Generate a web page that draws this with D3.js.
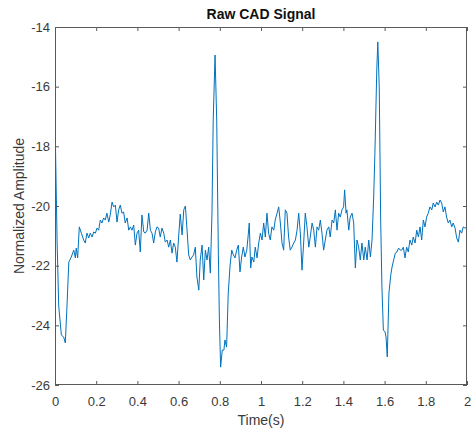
<!DOCTYPE html>
<html>
<head>
<meta charset="utf-8">
<script src="https://cdn.jsdelivr.net/npm/d3@7"></script>
<style>
  html, body { margin: 0; padding: 0; background: #fff; }
  svg { display: block; font-family: "Liberation Sans", Arial, sans-serif; }
</style>
</head>
<body>
<svg id="chart" width="471" height="432"></svg>
<script>
const chartTitle = "Raw CAD Signal";
const xLabel = "Time(s)";
const yLabel = "Normalized Amplitude";
const xTicks = [0, 0.2, 0.4, 0.6, 0.8, 1, 1.2, 1.4, 1.6, 1.8, 2];
const yTicks = [-14, -16, -18, -20, -22, -24, -26];

const time = [
  0.000, 0.010, 0.018, 0.031, 0.042, 0.050, 0.058, 0.067, 0.079, 0.091, 0.099, 0.103, 0.110, 0.118, 0.128, 0.139, 0.147, 0.155, 0.164, 0.171, 0.180, 0.188, 0.196, 0.204, 0.212, 0.220, 0.228, 0.236, 0.244, 0.252, 0.261, 0.268, 0.277, 0.285, 0.293, 0.301, 0.309, 0.317, 0.325,
  0.333, 0.341, 0.350, 0.358, 0.366, 0.374, 0.382, 0.390, 0.398, 0.406, 0.414, 0.422, 0.431, 0.438, 0.447, 0.455, 0.463, 0.471, 0.479, 0.487, 0.495, 0.503, 0.511, 0.519, 0.528, 0.535, 0.544, 0.552, 0.560, 0.568, 0.576, 0.584, 0.592, 0.600, 0.608, 0.617, 0.625, 0.633, 0.641, 0.649, 0.657, 0.665,
  0.673, 0.681, 0.689, 0.698, 0.705, 0.714, 0.722, 0.730, 0.738, 0.746, 0.754, 0.762, 0.768, 0.777, 0.785, 0.793, 0.798, 0.804, 0.812, 0.820, 0.825, 0.833, 0.841, 0.850, 0.858, 0.866, 0.874, 0.882, 0.890, 0.898, 0.906, 0.914, 0.922, 0.931, 0.938, 0.943, 0.950, 0.956, 0.965, 0.972, 0.981, 0.989, 0.997, 1.005,
  1.013, 1.021, 1.029, 1.037, 1.045, 1.053, 1.062, 1.069, 1.078, 1.086, 1.094, 1.102, 1.110, 1.118, 1.126, 1.134, 1.142, 1.150, 1.159, 1.167, 1.175, 1.183, 1.191, 1.199, 1.207, 1.215, 1.223, 1.232, 1.239, 1.248, 1.256, 1.264, 1.272, 1.280, 1.288, 1.296, 1.304, 1.312, 1.320, 1.329, 1.336, 1.345,
  1.353, 1.361, 1.369, 1.377, 1.385, 1.393, 1.401, 1.406, 1.413, 1.417, 1.426, 1.433, 1.442, 1.450, 1.458, 1.466, 1.474, 1.482, 1.490, 1.499, 1.506, 1.515, 1.523, 1.531, 1.539, 1.547, 1.553, 1.562, 1.567, 1.574, 1.581, 1.587, 1.594, 1.602, 1.607, 1.613, 1.621, 1.630, 1.636, 1.644, 1.652, 1.660, 1.668,
  1.676, 1.683, 1.691, 1.699, 1.707, 1.715, 1.723, 1.732, 1.739, 1.748, 1.756, 1.764, 1.772, 1.780, 1.788, 1.796, 1.804, 1.812, 1.820, 1.829, 1.836, 1.845, 1.853, 1.861, 1.869, 1.877, 1.885, 1.893, 1.901, 1.909, 1.917, 1.926, 1.933, 1.942, 1.950, 1.958, 1.966, 1.974, 1.982, 1.990, 2.000
];

const amplitude = [
  -17.05, -21.14, -23.35, -24.33, -24.39, -24.59, -23.39, -21.88, -21.71, -21.48, -21.74, -21.41, -21.74, -20.70, -20.91, -21.14, -21.24, -20.91, -21.07, -20.91, -21.04, -20.87, -20.91, -20.74, -20.81, -20.47, -20.57, -20.40, -20.47, -20.24, -20.54, -20.30, -19.87, -20.03, -19.97, -20.54, -20.13, -19.97, -20.24,
  -20.20, -20.57, -20.40, -20.81, -20.70, -20.81, -20.64, -21.31, -20.91, -20.81, -21.54, -20.30, -20.87, -20.91, -20.81, -20.24, -20.81, -20.91, -21.24, -20.87, -20.70, -20.74, -21.04, -20.74, -20.91, -21.21, -21.14, -21.38, -21.14, -21.58, -21.24, -21.38, -21.88, -21.04, -20.27, -20.97, -20.13, -20.00, -20.81, -21.64, -21.81, -21.71,
  -21.64, -21.38, -22.38, -22.82, -21.81, -21.31, -22.48, -21.48, -21.81, -21.38, -22.25, -20.24, -17.12, -14.94, -17.12, -21.58, -23.82, -25.40, -24.83, -24.83, -24.49, -24.73, -22.92, -21.98, -21.48, -21.64, -21.74, -21.48, -21.31, -22.21, -21.71, -21.38, -21.71, -21.48, -20.97, -20.57, -22.08, -21.71, -21.88, -21.38, -21.74, -21.24, -20.91, -21.14,
  -20.57, -21.04, -20.24, -20.91, -21.14, -20.70, -20.81, -20.47, -20.24, -20.03, -20.57, -21.24, -21.48, -20.13, -20.24, -21.04, -21.48, -21.38, -21.24, -21.14, -20.81, -20.24, -20.91, -22.15, -21.24, -20.24, -20.70, -21.38, -21.04, -20.57, -20.81, -21.38, -20.70, -20.81, -20.47, -20.91, -21.48, -21.14, -20.81, -20.70, -21.04, -20.47,
  -20.57, -20.13, -20.81, -20.24, -20.37, -20.13, -20.03, -19.46, -20.24, -20.13, -20.81, -20.37, -20.24, -20.57, -22.08, -21.14, -21.38, -21.81, -21.24, -21.81, -21.38, -21.81, -21.14, -21.71, -21.14, -19.70, -18.22, -15.44, -14.50, -16.01, -20.47, -22.72, -24.16, -24.22, -24.39, -25.06, -22.92, -22.31, -22.05, -21.81, -21.58, -21.54, -21.41,
  -21.48, -21.48, -21.38, -21.74, -21.38, -21.54, -21.14, -21.31, -21.04, -21.24, -20.81, -21.04, -20.70, -21.14, -20.47, -20.70, -20.37, -20.24, -20.03, -20.13, -19.90, -20.03, -19.87, -19.97, -19.80, -19.90, -20.20, -20.03, -20.37, -20.57, -20.47, -20.70, -20.57, -20.74, -21.07, -21.21, -20.81, -20.91, -20.70, -20.74, -20.72
];

const points = time.map((t, i) => ({ t, v: amplitude[i] }));

const svg = d3.select("#chart");
const margin = { left: 55, right: 4, top: 27, bottom: 47 };
const W = 471, H = 432;
const x = d3.scaleLinear().domain([0, 2]).range([margin.left, W - margin.right]);
const y = d3.scaleLinear().domain([-26, -14]).range([H - margin.bottom, margin.top]);

const axisColor = "#5a5a5a";
const textColor = "#3a3a3a";
const fontSize = 13;

svg.append("rect")
  .attr("x", x(0)).attr("y", y(-14))
  .attr("width", x(2) - x(0)).attr("height", y(-26) - y(-14))
  .attr("fill", "#fff");

const clipId = "plotclip";
svg.append("clipPath").attr("id", clipId).append("rect")
  .attr("x", x(0)).attr("y", y(-14)).attr("width", x(2) - x(0)).attr("height", y(-26) - y(-14));

svg.append("path")
  .datum(points)
  .attr("clip-path", `url(#${clipId})`)
  .attr("fill", "none")
  .attr("stroke", "#0072BD")
  .attr("stroke-width", 1)
  .attr("stroke-linejoin", "round")
  .attr("d", d3.line().x(d => x(d.t)).y(d => y(d.v)));

function styleAxis(g) {
  g.select(".domain").remove();
  g.selectAll("line").attr("stroke", axisColor);
  g.selectAll("text").attr("fill", textColor).style("font-size", fontSize + "px")
    .style("font-family", '"Liberation Sans", Arial, sans-serif');
}

const fmt = d => String(d);

svg.append("g").attr("transform", `translate(0,${y(-26)})`)
  .call(d3.axisBottom(x).tickValues(xTicks).tickFormat(fmt).tickSizeInner(-4).tickSizeOuter(0).tickPadding(12))
  .call(styleAxis);
svg.append("g").attr("transform", `translate(0,${y(-14)})`)
  .call(d3.axisTop(x).tickValues(xTicks).tickFormat("").tickSizeInner(-4).tickSizeOuter(0))
  .call(styleAxis);
svg.append("g").attr("transform", `translate(${x(0)},0)`)
  .call(d3.axisLeft(y).tickValues(yTicks).tickFormat(fmt).tickSizeInner(-4).tickSizeOuter(0).tickPadding(5))
  .call(styleAxis);
svg.append("g").attr("transform", `translate(${x(2)},0)`)
  .call(d3.axisRight(y).tickValues(yTicks).tickFormat("").tickSizeInner(-4).tickSizeOuter(0))
  .call(styleAxis);

svg.append("rect")
  .attr("x", x(0) + 0.5).attr("y", y(-14) + 0.5)
  .attr("width", x(2) - x(0) - 1).attr("height", y(-26) - y(-14) - 1)
  .attr("fill", "none").attr("stroke", axisColor).attr("stroke-width", 1);

svg.append("text")
  .attr("x", (x(0) + x(2)) / 2).attr("y", 19)
  .attr("text-anchor", "middle")
  .style("font-weight", "bold").style("font-size", "14px")
  .attr("fill", "#111")
  .text(chartTitle);

svg.append("text")
  .attr("x", (x(0) + x(2)) / 2).attr("y", 425)
  .attr("text-anchor", "middle")
  .style("font-size", "14px")
  .attr("fill", textColor)
  .text(xLabel);

svg.append("text")
  .attr("transform", `translate(24,${(y(-14) + y(-26)) / 2}) rotate(-90)`)
  .attr("text-anchor", "middle")
  .style("font-size", "14px")
  .attr("fill", textColor)
  .text(yLabel);
</script>
</body>
</html>
